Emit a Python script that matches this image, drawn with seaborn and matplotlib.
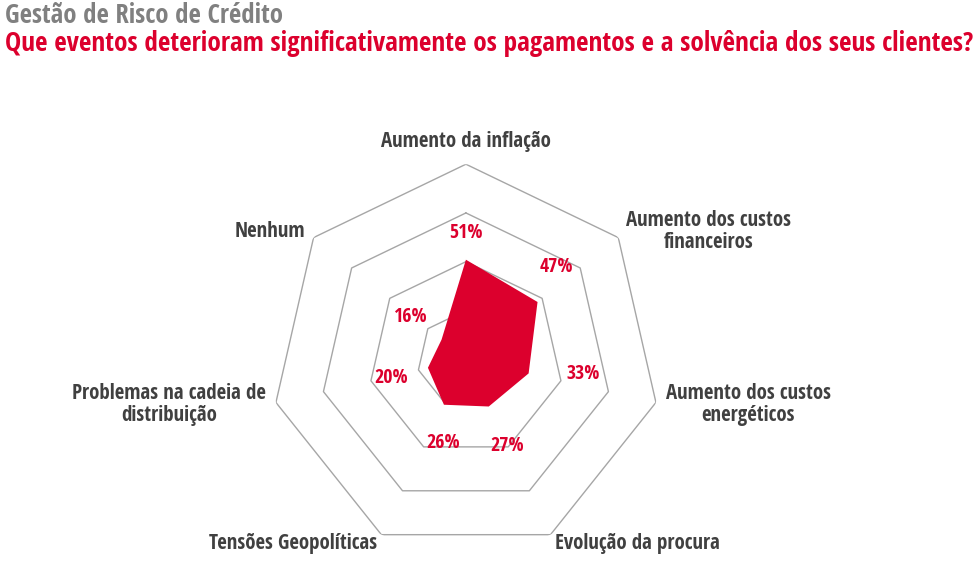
import numpy as np
import seaborn as sns
import matplotlib.pyplot as plt

# Data
categories = [
    "Aumento da inflação",
    "Aumento dos custos\nfinanceiros",
    "Aumento dos custos\nenergéticos",
    "Evolução da procura",
    "Tensões Geopolíticas",
    "Problemas na cadeia de\ndistribuição",
    "Nenhum",
]
values = [51, 47, 33, 27, 26, 20, 16]
ring_levels = [25, 50, 75, 100]

title_top = "Gestão de Risco de Crédito"
title_main = "Que eventos deterioram significativamente os pagamentos e a solvência dos seus clientes?"

RED = "#dc002d"
GREY = "#808080"
DARK = "#404040"
GRID = "#a6a6a6"

# small pixel nudges for the value labels (label placement only)
label_nudge = [(0, 0), (-11, 11), (17, 8), (2, -5), (16, -4), (0, -2), (-2, -1)]

sns.set_theme(style="white")
plt.rcParams["font.family"] = ["Open Sans Condensed", "Lato", "DejaVu Sans"]

n = len(categories)
theta = np.arange(n) * 2 * np.pi / n
theta_closed = np.append(theta, theta[0])

fig = plt.figure(figsize=(9.77, 5.69), dpi=100)
ax = fig.add_axes([0.2774, 0.0264, 0.399, 0.685], polar=True)
ax.set_theta_zero_location("N")
ax.set_theta_direction(-1)
ax.set_ylim(0, 100)
ax.grid(False)
ax.spines["polar"].set_visible(False)
ax.set_xticks([])
ax.set_yticks([])
ax.patch.set_alpha(0)

# heptagon grid
for lvl in ring_levels:
    sns.lineplot(x=theta_closed, y=[lvl] * (n + 1), sort=False, ax=ax,
                 color=GRID, linewidth=1.0, estimator=None)

# data polygon
vals_closed = values + values[:1]
ax.fill(theta_closed, vals_closed, color=RED, zorder=3, linewidth=0)

# value labels
for i, (t, v) in enumerate(zip(theta, values)):
    d = 27 if i == 0 else 38
    nx, ny = label_nudge[i]
    ax.annotate(f"{v}%", xy=(t, v), xytext=(d * np.sin(t) + nx, d * np.cos(t) + ny),
                textcoords="offset pixels", ha="center", va="center",
                color=RED, fontsize=14.3, fontweight="bold", zorder=4)

# category labels
for t, lab in zip(theta, categories):
    s, c = np.sin(t), np.cos(t)
    if abs(s) < 0.1:
        ha, va = "center", "bottom"
    else:
        ha, va = ("left" if s > 0 else "right"), "center"
    ax.annotate(lab, xy=(t, 100), xytext=(10 * s, 10 * c + (2 if va == "bottom" else 0)),
                textcoords="offset pixels", ha=ha, va=va, multialignment="center",
                color=DARK, fontsize=15, fontweight="bold", linespacing=1.1,
                annotation_clip=False)

fig.text(0.005, 0.997, title_top, ha="left", va="top", color=GREY,
         fontsize=19.3, fontweight="bold")
fig.text(0.005, 0.948, title_main, ha="left", va="top", color=RED,
         fontsize=19.5, fontweight="bold")

fig.savefig("out.png", dpi=100)
